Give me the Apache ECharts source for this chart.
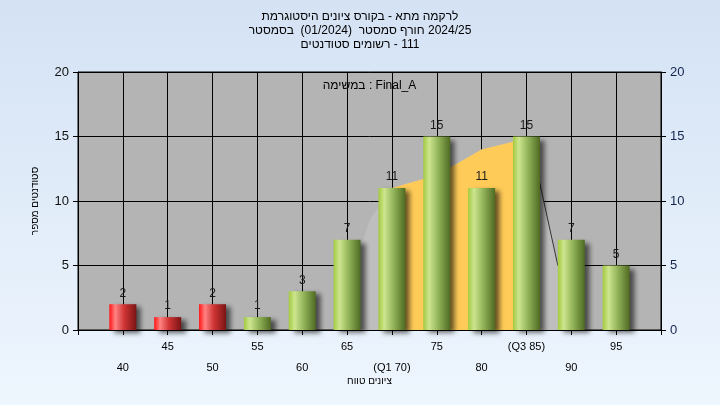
<!DOCTYPE html>
<html>
<head>
<meta charset="utf-8">
<script src="https://cdn.jsdelivr.net/npm/echarts@6/dist/echarts.min.js"></script>
<style>
  html, body { margin: 0; padding: 0; }
  body { width: 720px; height: 405px; background: linear-gradient(#d4e2f4, #eef6fe); }
  #chart { width: 720px; height: 405px; }
</style>
</head>
<body>
<div id="chart"></div>
<script>
// ---- data ----
const titleLines = [
  'היסטוגרמת ציונים בקורס - מתא לרקמה',
  'בסמסטר  (01/2024)  סמסטר חורף 2024/25',
  'סטודנטים רשומים - 111'
];
const taskLabel = 'במשימה : Final_A';
const xAxisName = 'טווח ציונים';
const yAxisName = 'מספר סטודנטים';
const categories = [40, 45, 50, 55, 60, 65, 70, 75, 80, 85, 90, 95];
const tickLabels = ['40', '45', '50', '55', '60', '65', '(Q1 70)', '75', '80', '(Q3 85)', '90', '95'];
const counts = [2, 1, 2, 1, 3, 7, 11, 15, 11, 15, 7, 5];
const passMark = 55;
// background distribution shape (grey) and inter-quartile part (yellow)
const curveX = [65.3, 65.9, 67.5, 70, 73.5, 76.5, 80, 83.5, 85.4, 88.5, 89.2];
const curveY = [0, 5, 8.5, 11, 11.7, 12.6, 14, 14.6, 14.8, 5, 0];
const iqrX = [70, 70, 73.5, 76.5, 80, 83.5, 85, 85];
const iqrY = [0, 11, 11.7, 12.6, 14, 14.6, 14.8, 0];
const edgeX = [85.4, 88.5];
const edgeY = [14.8, 5];
const yMin = 0, yMax = 20, yStep = 5;
const xMin = 35, xMax = 100, xStep = 5;

// ---- helpers ----
const FONT = "'Liberation Sans', Arial, sans-serif";
const zip = (a, b) => a.map((v, i) => [v, b[i]]);
const measureCtx = document.createElement('canvas').getContext('2d');

// lay the words of a line out left to right, each word drawn on its own
function wordRow(line, size, cx, cy, rotation) {
  const font = size + 'px ' + FONT;
  measureCtx.font = font;
  const spaceW = measureCtx.measureText(' ').width;
  const parts = line.split(' ');
  const items = [];
  let x = 0;
  parts.forEach((w, i) => {
    if (i > 0) x += spaceW;
    if (w) {
      items.push({ w: w, x: x });
      x += measureCtx.measureText(w).width;
    }
  });
  const total = x;
  return {
    type: 'group', x: cx, y: cy, rotation: rotation || 0, silent: true,
    children: items.map(it => ({
      type: 'text', x: it.x - total / 2, y: 0,
      style: { text: it.w, font: font, fill: '#000', textAlign: 'left', textVerticalAlign: 'middle' }
    }))
  };
}

function grad(stops) {
  return { type: 'linear', x: 0, y: 0, x2: 1, y2: 0,
    colorStops: stops.map(s => ({ offset: s[0], color: s[1] })) };
}
const redGrad = grad([[0, '#ff1414'], [0.22, '#ff8282'], [0.55, '#cf3434'], [1, '#7a1414']]);
const greenGrad = grad([[0, '#a2ca40'], [0.22, '#cde58e'], [0.55, '#93b55a'], [1, '#4f6a22']]);

const barData = categories.map((c, i) => ({
  value: [c, counts[i]],
  itemStyle: { color: c < passMark ? redGrad : greenGrad }
}));

const chart = echarts.init(document.getElementById('chart'), null, { renderer: 'canvas' });

const GRID = { left: 78, right: 59, top: 72, bottom: 75 };
const plotCx = (GRID.left + (720 - GRID.right)) / 2;
const plotCy = (GRID.top + (405 - GRID.bottom)) / 2;

const graphics = titleLines.map((l, i) => wordRow(l, 12, 360, 17 + i * 14));
graphics.push(wordRow(taskLabel, 12, plotCx, 86));
graphics.push(wordRow(xAxisName, 10, plotCx, 381));
graphics.push(wordRow(yAxisName, 10, 35, plotCy, Math.PI / 2));

const axisCommon = {
  type: 'value', min: xMin, max: xMax, interval: xStep, gridIndex: 0, position: 'bottom'
};

chart.setOption({
  backgroundColor: 'transparent',
  animation: false,
  textStyle: { fontFamily: FONT },
  graphic: graphics,
  grid: Object.assign({ show: true, backgroundColor: '#b4b4b4', borderColor: '#000', borderWidth: 1 }, GRID),
  xAxis: [
    Object.assign({}, axisCommon, {
      axisLine: { show: true, lineStyle: { color: '#000', width: 1 } },
      axisTick: { show: true, length: 5, lineStyle: { color: '#000' } },
      splitLine: { show: true, lineStyle: { color: '#000', width: 1 } },
      axisLabel: {
        margin: 11, fontSize: 11, color: '#000', fontFamily: FONT,
        showMinLabel: true, showMaxLabel: true,
        formatter: v => { const i = categories.indexOf(v); return (i >= 0 && i % 2 === 1) ? tickLabels[i] : ''; }
      }
    }),
    Object.assign({}, axisCommon, {
      axisLine: { show: false }, axisTick: { show: false }, splitLine: { show: false },
      axisLabel: {
        margin: 32, fontSize: 11, color: '#000', fontFamily: FONT,
        showMinLabel: true, showMaxLabel: true,
        formatter: v => { const i = categories.indexOf(v); return (i >= 0 && i % 2 === 0) ? tickLabels[i] : ''; }
      }
    })
  ],
  yAxis: [
    {
      type: 'value', position: 'left', min: yMin, max: yMax, interval: yStep,
      axisLine: { show: true, lineStyle: { color: '#000' } },
      axisTick: { show: true, length: 5, lineStyle: { color: '#000' } },
      splitLine: { show: true, lineStyle: { color: '#000', width: 1 } },
      axisLabel: { margin: 9, fontSize: 13, color: '#111', fontFamily: FONT }
    },
    {
      type: 'value', position: 'right', min: yMin, max: yMax, interval: yStep,
      axisLine: { show: true, lineStyle: { color: '#000' } },
      axisTick: { show: true, length: 5, lineStyle: { color: '#000' } },
      splitLine: { show: false },
      axisLabel: { margin: 9, fontSize: 13, color: '#14244e', fontFamily: FONT }
    }
  ],
  series: [
    {
      type: 'line', data: zip(curveX, curveY), symbol: 'none', silent: true,
      lineStyle: { width: 0 }, areaStyle: { color: '#bebebe', opacity: 1 }, z: 1
    },
    {
      type: 'line', data: zip(iqrX, iqrY), symbol: 'none', silent: true,
      lineStyle: { width: 0 }, areaStyle: { color: '#ffcb58', opacity: 1 }, z: 2
    },
    {
      type: 'line', data: zip(edgeX, edgeY), symbol: 'none', silent: true,
      lineStyle: { width: 1, color: '#333' }, z: 3
    },
    {
      type: 'bar', data: barData, barWidth: 27, z: 4,
      itemStyle: { shadowColor: 'rgba(0,0,0,0.6)', shadowBlur: 5, shadowOffsetX: 5, shadowOffsetY: 3 },
      label: { show: true, position: 'top', distance: 5, fontSize: 12, color: '#1a1a1a', fontFamily: FONT,
        formatter: p => String(p.value[1]) }
    }
  ]
});
</script>
</body>
</html>
